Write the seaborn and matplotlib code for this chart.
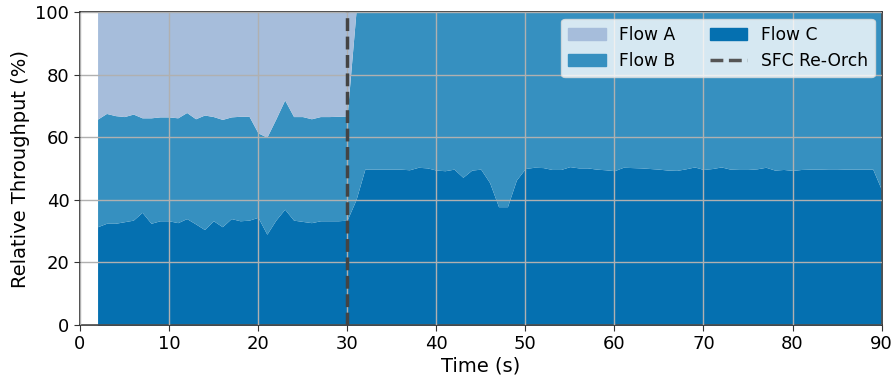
import numpy as np
import pandas as pd
import matplotlib
matplotlib.use("Agg")
import matplotlib.pyplot as plt
from matplotlib.patches import Patch
from matplotlib.lines import Line2D
import seaborn as sns

# time axis, one sample per second
time_s = list(range(2, 91))

# top of Flow C (bottom layer)
flow_c = [31.4, 32.5, 32.5, 33.0, 33.5, 36.0, 32.5, 33.3, 33.3, 32.7,
          34.0, 32.3, 30.5, 33.3, 31.4, 34.0, 33.3, 33.5, 34.4, 29.0,
          33.5, 37.0, 33.5, 33.1, 32.7, 33.3, 33.3, 33.3, 33.5,
          40.0, 49.8, 49.8, 49.8, 49.8, 49.8, 49.6, 50.4, 50.2, 49.5,
          49.3, 49.8, 47.2, 49.5, 49.8, 45.5, 37.8, 37.8, 46.3, 50.0,
          50.4, 50.3, 49.7, 49.7, 50.6, 50.2, 50.2, 49.8, 49.6, 49.3,
          50.4, 50.3, 50.2, 50.0, 49.8, 49.5, 49.4, 49.9, 50.5, 49.7,
          50.0, 50.5, 49.8, 49.7, 49.7, 49.9, 50.4, 49.5, 49.7, 49.4,
          49.7, 49.8, 49.8, 49.9, 49.9, 49.8, 49.8, 49.8, 49.8, 43.1]

# top of Flow B + Flow C
flow_bc = [65.8, 67.6, 66.9, 66.6, 67.4, 66.2, 66.2, 66.5, 66.5, 66.2,
           67.9, 65.9, 67.1, 66.6, 65.7, 66.5, 66.7, 66.7, 61.4, 60.0,
           65.8, 71.9, 66.6, 66.6, 65.9, 66.6, 66.6, 66.7, 66.8] + [100.0] * 60

reorch_t = 30

df = pd.DataFrame({"time": time_s, "c": flow_c, "bc": flow_bc})
df["Flow C"] = df["c"]
df["Flow B"] = df["bc"] - df["c"]
df["Flow A"] = 100 - df["bc"]

sns.set_style("ticks")
plt.rcParams['font.family'] = ['DejaVu Sans']
plt.rcParams['text.color'] = 'black'
plt.rcParams['axes.labelcolor'] = 'black'
plt.rcParams['xtick.color'] = 'black'
plt.rcParams['ytick.color'] = 'black'
colors = sns.color_palette(["#a6bddb", "#3690c0", "#0570b0"])

fig, ax = plt.subplots(figsize=(8.96, 3.77), dpi=100)
ax.stackplot(df["time"], df["Flow C"], df["Flow B"], df["Flow A"],
             colors=[colors[2], colors[1], colors[0]], linewidth=0)
ax.axvline(reorch_t, color="#444444", linestyle="--", linewidth=2.5, zorder=4)

ax.set_xlim(0, 90)
ax.set_ylim(0, 100)
ax.set_xticks(range(0, 91, 10))
ax.set_yticks(range(0, 101, 20))
ax.grid(True, color="#b0b0b0", linewidth=1)
ax.set_axisbelow(False)
ax.tick_params(labelsize=13, direction="out", length=4, color="#333333")
for s in ax.spines.values():
    s.set_color("#333333")
    s.set_linewidth(1.2)
ax.set_xlabel("Time (s)", fontsize=14, labelpad=2)
ax.set_ylabel("Relative Throughput (%)", fontsize=14)

handles = [Patch(color=colors[0], label="Flow A"),
           Patch(color=colors[1], label="Flow B"),
           Patch(color=colors[2], label="Flow C"),
           Line2D([0], [0], color="#555555", linestyle="--", linewidth=2.5, label="SFC Re-Orch")]
leg = ax.legend(handles=handles, ncol=2, loc="upper right", fontsize=12.3,
                frameon=True, framealpha=0.8, facecolor="white", edgecolor="#dddddd",
                columnspacing=2.0, handlelength=2.2, handletextpad=0.8,
                borderaxespad=0.4)

fig.subplots_adjust(left=0.089, right=0.984, top=0.968, bottom=0.138)
fig.savefig("out.png", dpi=100)
